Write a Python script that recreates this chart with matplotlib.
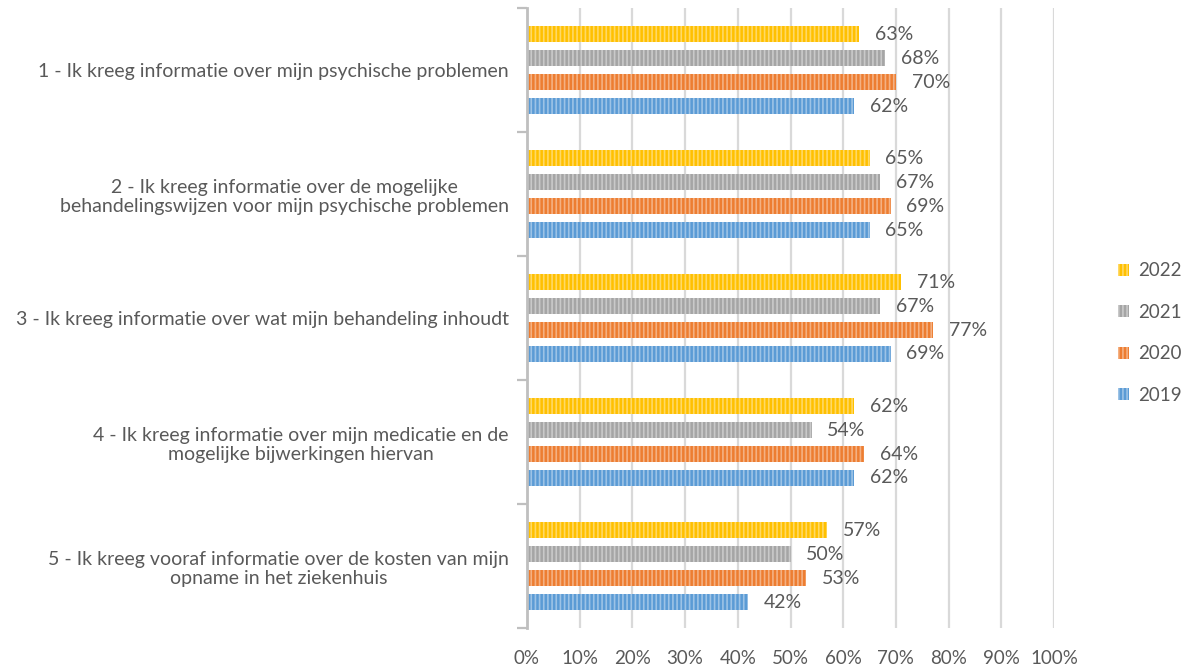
import numpy as np
import matplotlib.pyplot as plt
from matplotlib.patches import Patch

categories = [
    "1 - Ik kreeg informatie over mijn psychische problemen",
    "2 - Ik kreeg informatie over de mogelijke\nbehandelingswijzen voor mijn psychische problemen",
    "3 - Ik kreeg informatie over wat mijn behandeling inhoudt",
    "4 - Ik kreeg informatie over mijn medicatie en de\nmogelijke bijwerkingen hiervan",
    "5 - Ik kreeg vooraf informatie over de kosten van mijn\nopname in het ziekenhuis",
]
years = ["2022", "2021", "2020", "2019"]
v2022 = [63, 65, 71, 62, 57]
v2021 = [68, 67, 67, 54, 50]
v2020 = [70, 69, 77, 64, 53]
v2019 = [62, 65, 69, 62, 42]
series = [v2022, v2021, v2020, v2019]

fills = ["#FFC000", "#A5A5A5", "#ED7D31", "#5B9BD5"]
stripes = ["#FFD966", "#C9C9C9", "#F4B183", "#9DC3E6"]

plt.rcParams['font.family'] = ['Lato', 'DejaVu Sans']
plt.rcParams['hatch.linewidth'] = 1.2
txt = "#595959"
fs = 14

fig = plt.figure(figsize=(11.89, 6.68), dpi=100)
ax = fig.add_axes([527 / 1189, 1 - 628 / 668, (1054 - 527) / 1189, 620 / 668])

y = np.arange(len(categories))
slot = 24 / 124
h = 16 / 124
for k, vals in enumerate(series):
    off = (k - 1.5) * slot
    ax.barh(y + off, np.array(vals) / 100, height=h, color=fills[k],
            edgecolor=stripes[k], linewidth=0, hatch='||||', zorder=3)
    for yi, v in zip(y, vals):
        ax.text(v / 100 + 0.03, yi + off, f"{v}%", va='center', ha='left',
                fontsize=fs, color=txt)

ax.set_xlim(0, 1)
ax.set_ylim(len(categories) - 0.5, -0.5)
ax.set_xticks(np.arange(0, 1.01, 0.1))
ax.set_xticklabels([f"{int(round(t * 100))}%" for t in np.arange(0, 1.01, 0.1)])
ax.xaxis.grid(True, color="#D9D9D9", linewidth=1.6, zorder=0)
ax.tick_params(axis='x', length=0, pad=16, labelsize=fs - 0.5, labelcolor=txt)

ax.set_yticks(np.arange(-0.5, len(categories)), labels=[])
ax.set_yticks(y, minor=True)
ax.set_yticklabels(categories, minor=True, multialignment='center')
ax.tick_params(axis='y', which='major', length=7, width=1.6, color="#BFBFBF")
ax.tick_params(axis='y', which='minor', length=0, pad=13, labelsize=fs, labelcolor=txt)

for s in ['top', 'right', 'bottom']:
    ax.spines[s].set_visible(False)
ax.spines['left'].set_color("#BFBFBF")
ax.spines['left'].set_linewidth(2)
ax.spines['left'].set_zorder(4)

handles = [Patch(facecolor=fills[k], edgecolor=stripes[k], linewidth=0, hatch='||||')
           for k in range(4)]
fig.legend(handles, years, loc='center left', bbox_to_anchor=(1118 / 1189, 1 - 333 / 668),
           frameon=False, fontsize=fs - 0.5, labelcolor=txt, handlelength=0.6,
           handleheight=0.6, labelspacing=1.3, handletextpad=0.45,
           borderpad=0, borderaxespad=0)

fig.savefig("out.png", dpi=100)
